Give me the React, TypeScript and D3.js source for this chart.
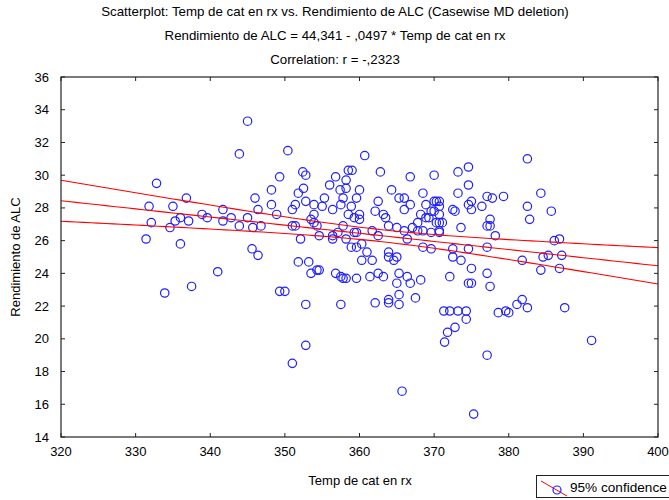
import React from "react";
import * as d3 from "d3";

const tempCat = [
  345.0, 343.9, 332.8, 336.8, 331.8, 335.0, 332.1, 335.3, 336.0, 337.1, 334.6, 338.9, 339.6, 341.7, 341.7, 342.8, 343.9, 345.0, 345.7, 331.4,
  336.0, 341.0, 345.6, 333.9, 337.5, 350.4, 360.7, 352.4, 352.8, 349.3, 358.5, 359.0, 362.8, 366.8, 370.0, 356.8, 356.0, 358.2, 358.2, 357.4,
  352.5, 351.8, 348.2, 346.0, 348.2, 346.4, 348.9, 346.8, 346.4, 352.8, 353.9, 355.3, 355.0, 351.4, 351.0, 356.4, 357.5, 357.8, 359.6, 360.0,
  358.9, 353.9, 353.5, 358.5, 359.3, 360.0, 360.0, 362.1, 362.5, 363.5, 364.3, 365.3, 366.0, 366.8, 366.0, 368.5, 368.9, 370.0, 368.2, 368.9,
  369.6, 363.2, 363.9, 365.0, 366.0, 367.1, 367.8, 367.8, 368.5, 369.6, 370.3, 361.7, 362.5, 366.4, 368.5, 369.6, 353.9, 354.3, 351.0, 351.4,
  354.6, 352.1, 356.4, 356.4, 357.1, 357.8, 358.2, 359.3, 359.6, 358.9, 359.6, 360.3, 361.0, 360.3, 361.7, 363.9, 363.9, 364.6, 365.0, 351.8,
  353.2, 353.5, 354.3, 354.6, 356.8, 357.5, 357.8, 358.2, 359.6, 361.4, 362.5, 363.2, 365.3, 366.4, 368.2, 365.0, 366.8, 367.5, 365.3, 365.3,
  363.9, 363.9, 362.1, 357.5, 352.8, 349.3, 350.0, 352.8, 351.0, 365.7, 382.5, 374.6, 373.2, 374.6, 373.2, 384.3, 377.1, 377.8, 379.3, 370.3,
  370.7, 370.7, 374.6, 375.0, 375.0, 376.4, 372.5, 372.8, 382.5, 385.7, 370.0, 370.7, 369.3, 370.7, 371.1, 377.5, 382.8, 377.1, 377.5, 373.6,
  370.7, 370.7, 378.2, 386.1, 386.8, 372.5, 374.6, 377.1, 372.5, 373.6, 385.3, 387.1, 384.6, 381.8, 375.0, 386.8, 384.3, 372.1, 377.1, 374.6,
  375.0, 377.5, 371.3, 372.1, 373.2, 374.3, 374.3, 372.8, 371.8, 371.4, 377.1, 375.3, 378.6, 379.6, 380.0, 381.1, 381.8, 382.5, 387.5, 391.1,
];

const rendimiento = [
  33.3, 31.3, 29.5, 28.6, 28.1, 28.1, 27.1, 27.2, 27.4, 27.2, 26.8, 27.6, 27.4, 27.9, 27.2, 27.4, 26.9, 27.4, 26.8, 26.1,
  25.8, 24.1, 25.5, 22.8, 23.2, 31.5, 31.2, 30.2, 30.0, 29.9, 30.3, 30.3, 30.2, 29.9, 30.0, 29.9, 29.4, 29.7, 29.2, 29.1,
  29.2, 28.9, 29.1, 28.6, 28.2, 27.9, 27.6, 26.9, 25.1, 28.4, 28.2, 28.6, 28.1, 28.2, 27.9, 27.9, 28.2, 28.6, 28.6, 29.1,
  28.1, 27.6, 27.3, 27.6, 27.4, 27.6, 27.3, 27.8, 28.4, 27.4, 29.1, 28.6, 28.6, 28.2, 27.9, 28.9, 28.2, 28.4, 27.6, 27.4,
  27.8, 27.6, 26.9, 26.8, 26.6, 26.8, 27.1, 26.6, 26.6, 26.5, 27.1, 26.6, 26.3, 26.1, 25.6, 25.5, 27.1, 26.9, 26.9, 26.9,
  26.3, 26.1, 26.3, 26.1, 26.5, 26.9, 26.1, 26.5, 26.5, 25.6, 25.6, 25.8, 25.3, 24.8, 24.8, 25.3, 25.0, 24.8, 25.0, 24.7,
  24.7, 24.0, 24.2, 24.2, 24.0, 23.8, 23.7, 23.7, 23.7, 23.8, 24.0, 23.8, 24.0, 23.8, 23.6, 23.4, 23.4, 22.5, 22.7, 22.1,
  22.4, 22.2, 22.2, 22.1, 22.1, 22.9, 22.9, 19.6, 18.5, 16.8, 31.0, 30.5, 30.2, 29.4, 28.9, 28.9, 28.7, 28.6, 28.7, 28.4,
  28.4, 28.1, 28.2, 28.4, 27.9, 28.1, 27.9, 27.8, 28.1, 27.8, 27.8, 27.6, 27.4, 27.1, 27.1, 27.3, 27.3, 26.9, 26.9, 26.8,
  26.5, 26.6, 26.3, 26.0, 26.1, 25.5, 25.5, 25.6, 25.0, 24.8, 25.1, 25.1, 25.0, 24.8, 24.3, 24.3, 24.2, 23.8, 24.0, 23.4,
  23.4, 23.2, 21.7, 21.7, 21.7, 21.7, 21.2, 20.7, 20.4, 19.8, 19.0, 15.4, 21.6, 21.7, 21.6, 22.1, 22.4, 21.9, 21.9, 19.9,
];

const xTicks = [320, 330, 340, 350, 360, 370, 380, 390, 400];
const yTicks = [14, 16, 18, 20, 22, 24, 26, 28, 30, 32, 34, 36];
const intercept = 44.341;
const slope = -0.0497;
const tCrit = 1.97;

const titleLines = [
  "Scatterplot: Temp de cat en rx vs. Rendimiento de ALC (Casewise MD deletion)",
  "Rendimiento de ALC = 44,341 - ,0497  * Temp de cat en rx",
  "Correlation: r = -,2323",
];

export default function App() {
  const W = 669, H = 500;
  const left = 61, right = 658, top = 77, bottom = 437;
  const x = d3.scaleLinear().domain([320, 400]).range([left, right]);
  const y = d3.scaleLinear().domain([14, 36]).range([bottom, top]);
  const font = "'Liberation Sans', Arial, sans-serif";

  const n = tempCat.length;
  const xbar = d3.mean(tempCat) as number;
  const sxx = d3.sum(tempCat, (v) => (v - xbar) * (v - xbar));
  const sse = d3.sum(tempCat, (v, i) => {
    const r = rendimiento[i] - (intercept + slope * v);
    return r * r;
  });
  const s = Math.sqrt(sse / (n - 2));
  const xs = d3.range(320, 400.01, 1);
  const fit = (v: number) => intercept + slope * v;
  const hw = (v: number) => tCrit * s * Math.sqrt(1 / n + ((v - xbar) * (v - xbar)) / sxx);
  const line = d3.line<number[]>().x((d) => x(d[0])).y((d) => y(d[1]));
  const mid = line(xs.map((v) => [v, fit(v)]));
  const up = line(xs.map((v) => [v, fit(v) + hw(v)]));
  const lo = line(xs.map((v) => [v, fit(v) - hw(v)]));

  return (
    <svg width={W} height={H} style={{ position: "absolute", left: 0, top: 0, background: "#fff" }} fontFamily={font}>
      {titleLines.map((t, i) => (
        <text key={i} x={335} y={16 + i * 24} textAnchor="middle" fontSize={13.3}>{t}</text>
      ))}
      <defs>
        <clipPath id="plot"><rect x={left} y={top} width={right - left} height={bottom - top} /></clipPath>
      </defs>
      <g clipPath="url(#plot)">
        {tempCat.map((v, i) => (
          <circle key={i} cx={x(v)} cy={y(rendimiento[i])} r={4.2} fill="none" stroke="#2020ff" strokeWidth={1.2} />
        ))}
        <path d={up || ""} fill="none" stroke="#ff0000" strokeWidth={1.1} />
        <path d={mid || ""} fill="none" stroke="#ff0000" strokeWidth={1.1} />
        <path d={lo || ""} fill="none" stroke="#ff0000" strokeWidth={1.1} />
      </g>
      <rect x={left} y={top} width={right - left} height={bottom - top} fill="none" stroke="#222" strokeWidth={1.2} />
      {xTicks.map((t) => (
        <g key={"x" + t}>
          <line x1={x(t)} x2={x(t)} y1={bottom} y2={bottom - 4} stroke="#222" />
          <line x1={x(t)} x2={x(t)} y1={top} y2={top + 4} stroke="#222" />
          <text x={x(t)} y={bottom + 19} textAnchor="middle" fontSize={13}>{t}</text>
        </g>
      ))}
      {yTicks.map((t) => (
        <g key={"y" + t}>
          <line x1={left} x2={left + 4} y1={y(t)} y2={y(t)} stroke="#222" />
          <line x1={right} x2={right - 4} y1={y(t)} y2={y(t)} stroke="#222" />
          <text x={49} y={y(t) + 4.5} textAnchor="end" fontSize={13}>{t}</text>
        </g>
      ))}
      <text x={360} y={485} textAnchor="middle" fontSize={13}>Temp de cat en rx</text>
      <text transform={`translate(20,${(top + bottom) / 2}) rotate(-90)`} textAnchor="middle" fontSize={13}>Rendimiento de ALC</text>
      <g>
        <rect x={536.5} y={475.5} width={140} height={22} fill="#fff" stroke="#222" />
        <line x1={541} x2={567} y1={481} y2={496} stroke="#ff0000" />
        <circle cx={557} cy={490} r={4} fill="none" stroke="#2020ff" strokeWidth={1.2} />
        <text x={570} y={492} fontSize={13.6}>95% confidence</text>
      </g>
    </svg>
  );
}
